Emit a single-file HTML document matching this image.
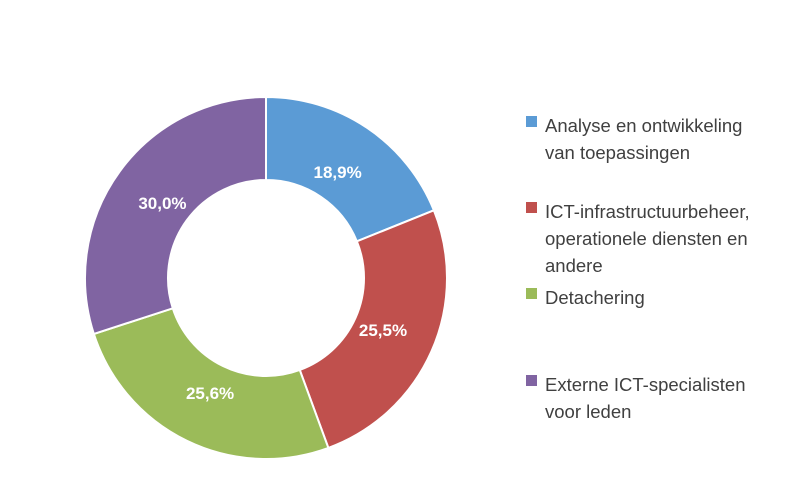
<!DOCTYPE html>
<html><head><meta charset="utf-8">
<style>
body{margin:0;background:#fff;}
svg{display:block;font-family:"Liberation Sans",Calibri,sans-serif;}
</style></head>
<body>
<svg id="chart" width="800" height="504">
<g id="slices"></g>
<g id="labels"></g>
<g id="legend"></g>
</svg>
<script>
const categories = ["Analyse en ontwikkeling van toepassingen","ICT-infrastructuurbeheer, operationele diensten en andere","Detachering","Externe ICT-specialisten voor leden"];
const values = [18.9, 25.5, 25.6, 30.0];
const valueLabels = ["18,9%","25,5%","25,6%","30,0%"];
const colors = ["#5B9BD5","#C0504D","#9BBB59","#8064A2"];
const legendLines = [["Analyse en ontwikkeling","van toepassingen"],["ICT-infrastructuurbeheer,","operationele diensten en","andere"],["Detachering"],["Externe ICT-specialisten","voor leden"]];
const legendY = [127, 213, 299, 386];

const NS="http://www.w3.org/2000/svg";
const cx=266, cy=278, R=181, r=98, labR=128;
const total=values.reduce((a,b)=>a+b,0);
function pt(a,rad){return [cx+rad*Math.sin(a), cy-rad*Math.cos(a)];}
let start=0;
const sg=document.getElementById('slices'), lg=document.getElementById('labels'), leg=document.getElementById('legend');
values.forEach((v,i)=>{
  const ang=v/total*2*Math.PI, end=start+ang, large=ang>Math.PI?1:0;
  const [x1,y1]=pt(start,R),[x2,y2]=pt(end,R),[x3,y3]=pt(end,r),[x4,y4]=pt(start,r);
  const p=document.createElementNS(NS,'path');
  p.setAttribute('d',`M${x1},${y1}A${R},${R} 0 ${large} 1 ${x2},${y2}L${x3},${y3}A${r},${r} 0 ${large} 0 ${x4},${y4}Z`);
  p.setAttribute('fill',colors[i]);p.setAttribute('stroke','#fff');p.setAttribute('stroke-width','2');
  
  
  sg.appendChild(p);
  const [lx,ly]=pt(start+ang/2,labR);
  const t=document.createElementNS(NS,'text');
  t.setAttribute('x',lx);t.setAttribute('y',ly+6);t.setAttribute('text-anchor','middle');
  t.setAttribute('fill','#fff');t.setAttribute('font-weight','bold');t.setAttribute('font-size','17');
  t.textContent=valueLabels[i];
  
  
  lg.appendChild(t);
  start=end;
  const sq=document.createElementNS(NS,'rect');
  sq.setAttribute('x',526);sq.setAttribute('y',legendY[i]-11);sq.setAttribute('width',11);sq.setAttribute('height',11);sq.setAttribute('fill',colors[i]);
  
  
  leg.appendChild(sq);
  legendLines[i].forEach((line,j)=>{
    const lt=document.createElementNS(NS,'text');
    lt.setAttribute('x',545);lt.setAttribute('y',legendY[i]+5+j*27);lt.setAttribute('font-size','18.5');lt.setAttribute('fill','#404040');
    lt.textContent=line;
    
    
    leg.appendChild(lt);
  });
});
</script>
</body></html>
